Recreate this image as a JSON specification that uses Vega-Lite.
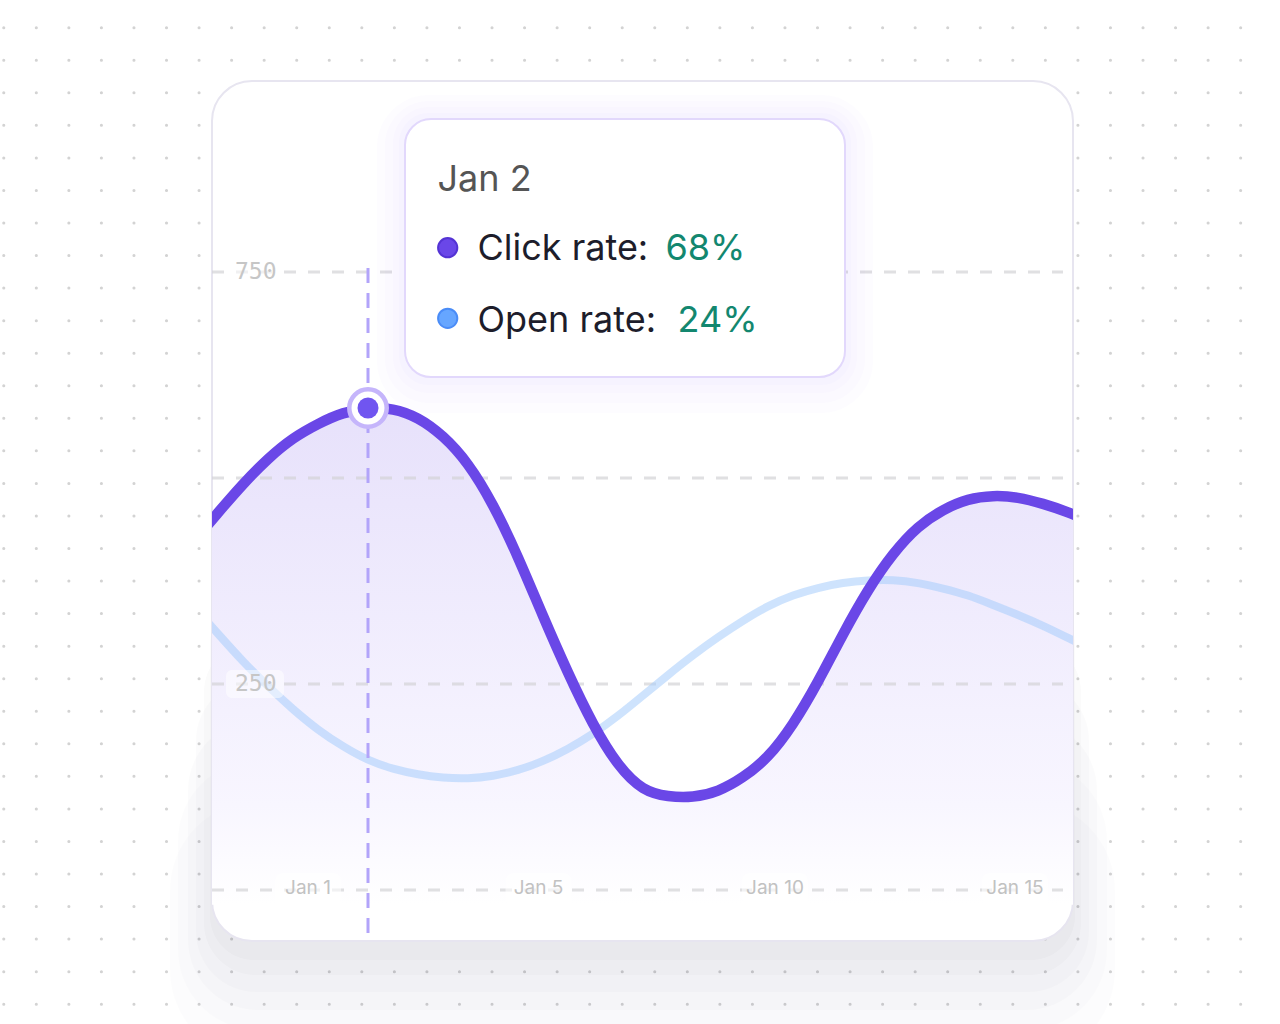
{
  "$schema": "https://vega.github.io/schema/vega-lite/v6.json",
  "width": 861,
  "height": 860,
  "autosize": {"type": "none"},
  "padding": {"left": 212, "top": 81, "right": 207, "bottom": 83},
  "background": "#ffffff",
  "config": {"view": {"stroke": null}, "axis": {"disable": true}},
  "datasets": {
    "rates": [
      {"day": -1.5, "click": 422, "open": 345},
      {"day": -1, "click": 458, "open": 311},
      {"day": -0.5, "click": 493, "open": 277},
      {"day": 0, "click": 524, "open": 247},
      {"day": 0.5, "click": 549, "open": 219},
      {"day": 1, "click": 566, "open": 194},
      {"day": 1.5, "click": 580, "open": 174},
      {"day": 2, "click": 585, "open": 157},
      {"day": 2.5, "click": 585, "open": 146.5},
      {"day": 3, "click": 574, "open": 140},
      {"day": 3.5, "click": 552, "open": 136},
      {"day": 4, "click": 519, "open": 135},
      {"day": 4.5, "click": 469, "open": 138},
      {"day": 5, "click": 405, "open": 145},
      {"day": 5.5, "click": 332, "open": 156},
      {"day": 6, "click": 263, "open": 171},
      {"day": 6.5, "click": 200, "open": 189},
      {"day": 7, "click": 150, "open": 211},
      {"day": 7.5, "click": 120, "open": 236},
      {"day": 8, "click": 113, "open": 261},
      {"day": 8.5, "click": 112, "open": 285},
      {"day": 9, "click": 119, "open": 307},
      {"day": 9.5, "click": 136, "open": 327},
      {"day": 10, "click": 160, "open": 345},
      {"day": 10.5, "click": 200, "open": 358},
      {"day": 11, "click": 252, "open": 367},
      {"day": 11.5, "click": 311, "open": 373},
      {"day": 12, "click": 365, "open": 376},
      {"day": 12.5, "click": 409, "open": 376.5},
      {"day": 13, "click": 442, "open": 373},
      {"day": 13.5, "click": 462, "open": 366},
      {"day": 14, "click": 475, "open": 358},
      {"day": 14.5, "click": 479, "open": 346},
      {"day": 15, "click": 477, "open": 334},
      {"day": 15.5, "click": 469, "open": 321},
      {"day": 16, "click": 459, "open": 306},
      {"day": 16.5, "click": 445, "open": 291}
    ],
    "dots": [
      {"r": 0}, {"r": 1}, {"r": 2}, {"r": 3}, {"r": 4}, {"r": 5}, {"r": 6}, {"r": 7},
      {"r": 8}, {"r": 9}, {"r": 10}, {"r": 11}, {"r": 12}, {"r": 13}, {"r": 14}, {"r": 15},
      {"r": 16}, {"r": 17}, {"r": 18}, {"r": 19}, {"r": 20}, {"r": 21}, {"r": 22}, {"r": 23},
      {"r": 24}, {"r": 25}, {"r": 26}, {"r": 27}, {"r": 28}, {"r": 29}, {"r": 30}
    ],
    "grid": [{"v": 0}, {"v": 250}, {"v": 500}, {"v": 750}],
    "ylabels": [{"v": 750, "label": "750"}, {"v": 250, "label": "250"}],
    "xlabels": [
      {"day": 0.8, "label": "Jan 1"},
      {"day": 5.41, "label": "Jan 5"},
      {"day": 10.14, "label": "Jan 10"},
      {"day": 14.94, "label": "Jan 15"}
    ]
  },
  "resolve": {"scale": {"x": "independent", "y": "independent"}},
  "layer": [
    {
      "data": {"name": "dots"},
      "mark": {"type": "rule", "strokeDash": [0.1, 32.45], "strokeCap": "round", "strokeWidth": 3, "color": "#d3d3d3"},
      "encoding": {
        "y": {"field": "r", "type": "quantitative", "scale": {"domain": [1.6375, 28.059], "reverse": true, "nice": false, "zero": false}},
        "x": {"datum": 0, "type": "quantitative", "scale": {"domain": [6.399, 32.851], "nice": false, "zero": false}},
        "x2": {"datum": 39}
      }
    },
    {
      "layer": [
        {
          "data": {"values": [{"id": "shadow6"}]},
          "mark": {"type": "rect", "fill": "#1a1a2e", "opacity": 0.01, "cornerRadius": 90},
          "encoding": {
            "x": {"datum": -1.96, "type": "quantitative", "scale": {"domain": [-1.12, 16.1], "nice": false, "zero": false}},
            "x2": {"datum": 16.94},
            "y": {"datum": 108.8, "type": "quantitative", "scale": {"domain": [-62, 982], "nice": false, "zero": false}},
            "y2": {"datum": -206.5}
          }
        },
        {
          "data": {"values": [{"id": "shadow5"}]},
          "mark": {"type": "rect", "fill": "#1a1a2e", "opacity": 0.013, "cornerRadius": 80},
          "encoding": {
            "x": {"datum": -1.8, "type": "quantitative", "scale": {"domain": [-1.12, 16.1], "nice": false, "zero": false}},
            "x2": {"datum": 16.78},
            "y": {"datum": 157.4, "type": "quantitative", "scale": {"domain": [-62, 982], "nice": false, "zero": false}},
            "y2": {"datum": -170.1}
          }
        },
        {
          "data": {"values": [{"id": "shadow4"}]},
          "mark": {"type": "rect", "fill": "#1a1a2e", "opacity": 0.015, "cornerRadius": 70},
          "encoding": {
            "x": {"datum": -1.6, "type": "quantitative", "scale": {"domain": [-1.12, 16.1], "nice": false, "zero": false}},
            "x2": {"datum": 16.58},
            "y": {"datum": 205.9, "type": "quantitative", "scale": {"domain": [-62, 982], "nice": false, "zero": false}},
            "y2": {"datum": -145.8}
          }
        },
        {
          "data": {"values": [{"id": "shadow3"}]},
          "mark": {"type": "rect", "fill": "#1a1a2e", "opacity": 0.015, "cornerRadius": 60},
          "encoding": {
            "x": {"datum": -1.44, "type": "quantitative", "scale": {"domain": [-1.12, 16.1], "nice": false, "zero": false}},
            "x2": {"datum": 16.42},
            "y": {"datum": 254.5, "type": "quantitative", "scale": {"domain": [-62, 982], "nice": false, "zero": false}},
            "y2": {"datum": -123.9}
          }
        },
        {
          "data": {"values": [{"id": "shadow2"}]},
          "mark": {"type": "rect", "fill": "#1a1a2e", "opacity": 0.018, "cornerRadius": 52},
          "encoding": {
            "x": {"datum": -1.28, "type": "quantitative", "scale": {"domain": [-1.12, 16.1], "nice": false, "zero": false}},
            "x2": {"datum": 16.26},
            "y": {"datum": 303.0, "type": "quantitative", "scale": {"domain": [-62, 982], "nice": false, "zero": false}},
            "y2": {"datum": -103.3}
          }
        },
        {
          "data": {"values": [{"id": "shadow1"}]},
          "mark": {"type": "rect", "fill": "#1a1a2e", "opacity": 0.02, "cornerRadius": 44},
          "encoding": {
            "x": {"datum": -1.16, "type": "quantitative", "scale": {"domain": [-1.12, 16.1], "nice": false, "zero": false}},
            "x2": {"datum": 16.14},
            "y": {"datum": 351.6, "type": "quantitative", "scale": {"domain": [-62, 982], "nice": false, "zero": false}},
            "y2": {"datum": -85.1}
          }
        },
        {
          "data": {"values": [{"id": "card"}]},
          "mark": {"type": "rect", "fill": "#ffffff", "stroke": "#e7e5f0", "strokeWidth": 2, "cornerRadius": 40},
          "encoding": {
            "x": {"datum": -1.12, "type": "quantitative", "scale": {"domain": [-1.12, 16.1], "nice": false, "zero": false}},
            "x2": {"datum": 16.1},
            "y": {"datum": 982, "type": "quantitative", "scale": {"domain": [-62, 982], "nice": false, "zero": false}},
            "y2": {"datum": -62}
          }
        },
        {
          "data": {"name": "rates"},
          "mark": {
            "type": "area", "interpolate": "basis", "clip": true,
            "fill": {"gradient": "linear", "x1": 0, "y1": 0, "x2": 0, "y2": 1,
              "stops": [{"offset": 0, "color": "#e7e1fb"}, {"offset": 0.8, "color": "#f8f6ff"}, {"offset": 1, "color": "#ffffff"}]}
          },
          "encoding": {
            "x": {"field": "day", "type": "quantitative", "scale": {"domain": [-1.12, 16.1], "nice": false, "zero": false}},
            "y": {"field": "click", "type": "quantitative", "scale": {"domain": [-62, 982], "nice": false, "zero": false}},
            "y2": {"datum": -18}
          }
        },
        {
          "data": {"name": "grid"},
          "mark": {"type": "rule", "stroke": "#d3d3d6", "opacity": 0.7, "strokeWidth": 3, "strokeDash": [12, 12]},
          "encoding": {
            "y": {"field": "v", "type": "quantitative", "scale": {"domain": [-62, 982], "nice": false, "zero": false}},
            "x": {"datum": -1.12, "type": "quantitative", "scale": {"domain": [-1.12, 16.1], "nice": false, "zero": false}},
            "x2": {"datum": 15.9}
          }
        },
        {
          "data": {"name": "rates"},
          "mark": {"type": "line", "interpolate": "basis", "clip": true, "stroke": "#a6ccfb", "opacity": 0.55, "strokeWidth": 8, "strokeCap": "round"},
          "encoding": {
            "x": {"field": "day", "type": "quantitative", "scale": {"domain": [-1.12, 16.1], "nice": false, "zero": false}},
            "y": {"field": "open", "type": "quantitative", "scale": {"domain": [-62, 982], "nice": false, "zero": false}}
          }
        },
        {
          "data": {"values": [{"id": "crosshair"}]},
          "mark": {"type": "rule", "stroke": "#b2a4fa", "strokeWidth": 3, "strokeDash": [15, 10]},
          "encoding": {
            "x": {"datum": 2, "type": "quantitative", "scale": {"domain": [-1.12, 16.1], "nice": false, "zero": false}},
            "y": {"datum": 754.9, "type": "quantitative", "scale": {"domain": [-62, 982], "nice": false, "zero": false}},
            "y2": {"datum": -52.3}
          }
        },
        {
          "data": {"name": "rates"},
          "mark": {"type": "line", "interpolate": "basis", "clip": true, "stroke": "#6a47e7", "strokeWidth": 10.5, "strokeCap": "round"},
          "encoding": {
            "x": {"field": "day", "type": "quantitative", "scale": {"domain": [-1.12, 16.1], "nice": false, "zero": false}},
            "y": {"field": "click", "type": "quantitative", "scale": {"domain": [-62, 982], "nice": false, "zero": false}}
          }
        },
        {
          "data": {"name": "ylabels"},
          "mark": {"type": "rect", "fill": "#ffffff", "opacity": 0.5, "cornerRadius": 6, "height": 28},
          "encoding": {
            "y": {"field": "v", "type": "quantitative", "scale": {"domain": [-62, 982], "nice": false, "zero": false}},
            "x": {"datum": -0.84, "type": "quantitative", "scale": {"domain": [-1.12, 16.1], "nice": false, "zero": false}},
            "x2": {"datum": 0.32}
          }
        },
        {
          "data": {"name": "ylabels"},
          "mark": {"type": "text", "font": "DejaVu Sans Mono", "fontSize": 23, "fill": "#c6c6c6", "align": "left", "baseline": "middle"},
          "encoding": {
            "y": {"field": "v", "type": "quantitative", "scale": {"domain": [-62, 982], "nice": false, "zero": false}},
            "x": {"datum": -0.66, "type": "quantitative", "scale": {"domain": [-1.12, 16.1], "nice": false, "zero": false}},
            "text": {"field": "label"}
          }
        },
        {
          "data": {"name": "xlabels"},
          "mark": {"type": "rect", "fill": "#ffffff", "opacity": 0.55, "cornerRadius": 8, "width": 66, "height": 34},
          "encoding": {
            "x": {"field": "day", "type": "quantitative", "scale": {"domain": [-1.12, 16.1], "nice": false, "zero": false}},
            "y": {"datum": 0, "type": "quantitative", "scale": {"domain": [-62, 982], "nice": false, "zero": false}}
          }
        },
        {
          "data": {"name": "xlabels"},
          "mark": {"type": "text", "font": "Inter", "fontSize": 19, "fill": "#c2c2c2", "align": "center", "baseline": "middle", "dy": -2},
          "encoding": {
            "x": {"field": "day", "type": "quantitative", "scale": {"domain": [-1.12, 16.1], "nice": false, "zero": false}},
            "y": {"datum": 0, "type": "quantitative", "scale": {"domain": [-62, 982], "nice": false, "zero": false}},
            "text": {"field": "label"}
          }
        },
        {
          "data": {"name": "rates"},
          "transform": [{"filter": "datum.day == 2"}],
          "mark": {"type": "point", "shape": "circle", "filled": true, "size": 1400, "fill": "#ffffff", "stroke": "#c5b5fb", "strokeWidth": 4.5, "opacity": 1},
          "encoding": {
            "x": {"field": "day", "type": "quantitative", "scale": {"domain": [-1.12, 16.1], "nice": false, "zero": false}},
            "y": {"field": "click", "type": "quantitative", "scale": {"domain": [-62, 982], "nice": false, "zero": false}}
          }
        },
        {
          "data": {"name": "rates"},
          "transform": [{"filter": "datum.day == 2"}],
          "mark": {"type": "point", "shape": "circle", "filled": true, "size": 440, "fill": "#7055f0", "opacity": 1},
          "encoding": {
            "x": {"field": "day", "type": "quantitative", "scale": {"domain": [-1.12, 16.1], "nice": false, "zero": false}},
            "y": {"field": "click", "type": "quantitative", "scale": {"domain": [-62, 982], "nice": false, "zero": false}}
          }
        },
        {
          "data": {"values": [{"id": "glow4"}]},
          "mark": {"type": "rect", "fill": "#8a6cf5", "opacity": 0.018, "cornerRadius": 52},
          "encoding": {
            "x": {"datum": 2.18, "type": "quantitative", "scale": {"domain": [-1.12, 16.1], "nice": false, "zero": false}},
            "x2": {"datum": 12.1},
            "y": {"datum": 965.0, "type": "quantitative", "scale": {"domain": [-62, 982], "nice": false, "zero": false}},
            "y2": {"datum": 579.0}
          }
        },
        {
          "data": {"values": [{"id": "glow3"}]},
          "mark": {"type": "rect", "fill": "#8a6cf5", "opacity": 0.02, "cornerRadius": 44},
          "encoding": {
            "x": {"datum": 2.34, "type": "quantitative", "scale": {"domain": [-1.12, 16.1], "nice": false, "zero": false}},
            "x2": {"datum": 11.94},
            "y": {"datum": 957.7, "type": "quantitative", "scale": {"domain": [-62, 982], "nice": false, "zero": false}},
            "y2": {"datum": 591.1}
          }
        },
        {
          "data": {"values": [{"id": "glow2"}]},
          "mark": {"type": "rect", "fill": "#8a6cf5", "opacity": 0.02, "cornerRadius": 36},
          "encoding": {
            "x": {"datum": 2.5, "type": "quantitative", "scale": {"domain": [-1.12, 16.1], "nice": false, "zero": false}},
            "x2": {"datum": 11.78},
            "y": {"datum": 950.4, "type": "quantitative", "scale": {"domain": [-62, 982], "nice": false, "zero": false}},
            "y2": {"datum": 603.2}
          }
        },
        {
          "data": {"values": [{"id": "glow1"}]},
          "mark": {"type": "rect", "fill": "#8a6cf5", "opacity": 0.022, "cornerRadius": 30},
          "encoding": {
            "x": {"datum": 2.62, "type": "quantitative", "scale": {"domain": [-1.12, 16.1], "nice": false, "zero": false}},
            "x2": {"datum": 11.66},
            "y": {"datum": 943.1, "type": "quantitative", "scale": {"domain": [-62, 982], "nice": false, "zero": false}},
            "y2": {"datum": 612.9}
          }
        },
        {
          "data": {"values": [{"id": "tooltip"}]},
          "mark": {"type": "rect", "fill": "#ffffff", "stroke": "#e2d8fc", "strokeWidth": 2, "cornerRadius": 26},
          "encoding": {
            "x": {"datum": 2.74, "type": "quantitative", "scale": {"domain": [-1.12, 16.1], "nice": false, "zero": false}},
            "x2": {"datum": 11.54},
            "y": {"datum": 935.8, "type": "quantitative", "scale": {"domain": [-62, 982], "nice": false, "zero": false}},
            "y2": {"datum": 622.6}
          }
        },
        {
          "data": {"values": [{"t": "Jan 2"}]},
          "mark": {"type": "text", "font": "Inter", "fontSize": 36, "fill": "#555555", "align": "left", "baseline": "alphabetic"},
          "encoding": {
            "x": {"datum": 3.39, "type": "quantitative", "scale": {"domain": [-1.12, 16.1], "nice": false, "zero": false}},
            "y": {"datum": 848.4, "type": "quantitative", "scale": {"domain": [-62, 982], "nice": false, "zero": false}},
            "text": {"field": "t"}
          }
        },
        {
          "data": {"values": [{"series": "Click rate"}]},
          "mark": {"type": "point", "shape": "circle", "filled": true, "size": 370, "fill": "#6a47e8", "stroke": "#5433d4", "strokeWidth": 2, "opacity": 1},
          "encoding": {
            "x": {"datum": 3.594, "type": "quantitative", "scale": {"domain": [-1.12, 16.1], "nice": false, "zero": false}},
            "y": {"datum": 779.6, "type": "quantitative", "scale": {"domain": [-62, 982], "nice": false, "zero": false}}
          }
        },
        {
          "data": {"values": [{"t": "Click rate:"}]},
          "mark": {"type": "text", "font": "Inter", "fontSize": 36, "fill": "#1d1d2b", "align": "left", "baseline": "alphabetic"},
          "encoding": {
            "x": {"datum": 4.19, "type": "quantitative", "scale": {"domain": [-1.12, 16.1], "nice": false, "zero": false}},
            "y": {"datum": 764.6, "type": "quantitative", "scale": {"domain": [-62, 982], "nice": false, "zero": false}},
            "text": {"field": "t"}
          }
        },
        {
          "data": {"values": [{"t": "68%"}]},
          "mark": {"type": "text", "font": "Inter", "fontSize": 36, "fill": "#13876f", "align": "left", "baseline": "alphabetic"},
          "encoding": {
            "x": {"datum": 7.95, "type": "quantitative", "scale": {"domain": [-1.12, 16.1], "nice": false, "zero": false}},
            "y": {"datum": 764.6, "type": "quantitative", "scale": {"domain": [-62, 982], "nice": false, "zero": false}},
            "text": {"field": "t"}
          }
        },
        {
          "data": {"values": [{"series": "Open rate"}]},
          "mark": {"type": "point", "shape": "circle", "filled": true, "size": 370, "fill": "#66a6ff", "stroke": "#4a8cf7", "strokeWidth": 2, "opacity": 1},
          "encoding": {
            "x": {"datum": 3.594, "type": "quantitative", "scale": {"domain": [-1.12, 16.1], "nice": false, "zero": false}},
            "y": {"datum": 693.9, "type": "quantitative", "scale": {"domain": [-62, 982], "nice": false, "zero": false}}
          }
        },
        {
          "data": {"values": [{"t": "Open rate:"}]},
          "mark": {"type": "text", "font": "Inter", "fontSize": 36, "fill": "#1d1d2b", "align": "left", "baseline": "alphabetic"},
          "encoding": {
            "x": {"datum": 4.19, "type": "quantitative", "scale": {"domain": [-1.12, 16.1], "nice": false, "zero": false}},
            "y": {"datum": 677.6, "type": "quantitative", "scale": {"domain": [-62, 982], "nice": false, "zero": false}},
            "text": {"field": "t"}
          }
        },
        {
          "data": {"values": [{"t": "24%"}]},
          "mark": {"type": "text", "font": "Inter", "fontSize": 36, "fill": "#13876f", "align": "left", "baseline": "alphabetic"},
          "encoding": {
            "x": {"datum": 8.19, "type": "quantitative", "scale": {"domain": [-1.12, 16.1], "nice": false, "zero": false}},
            "y": {"datum": 677.6, "type": "quantitative", "scale": {"domain": [-62, 982], "nice": false, "zero": false}},
            "text": {"field": "t"}
          }
        }
      ]
    }
  ]
}
